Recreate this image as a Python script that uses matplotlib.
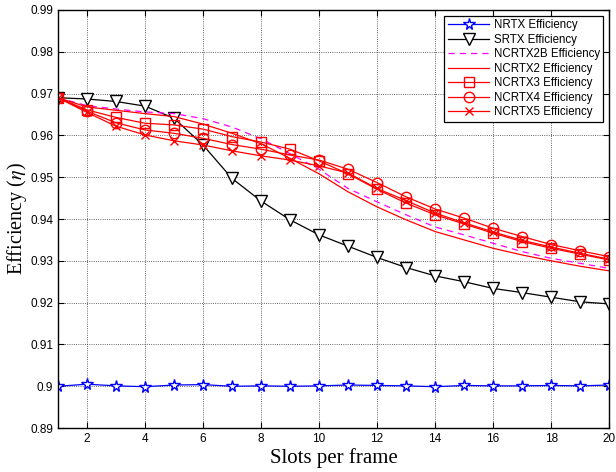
import matplotlib
matplotlib.use("Agg")
from matplotlib import pyplot as plt
import numpy as np

# slots per frame
slots = list(range(1, 21))

nrtx = [0.9000, 0.9005, 0.9001, 0.8999, 0.9003, 0.9004, 0.9000, 0.9001, 0.9000, 0.9001,
        0.9003, 0.9002, 0.9001, 0.8999, 0.9002, 0.9001, 0.9001, 0.9002, 0.9001, 0.9003]
srtx = [0.9690, 0.9687, 0.9681, 0.9670, 0.9641, 0.9577, 0.9497, 0.9443, 0.9398, 0.9362,
        0.9335, 0.9308, 0.9284, 0.9264, 0.9250, 0.9234, 0.9224, 0.9213, 0.9202, 0.9197]
ncrtx2b = [0.9690, 0.9671, 0.9663, 0.9656, 0.9652, 0.9640, 0.9620, 0.9592, 0.9556, 0.9519,
           0.9473, 0.9441, 0.9410, 0.9381, 0.9362, 0.9342, 0.9322, 0.9306, 0.9294, 0.9282]
ncrtx2 = [0.9690, 0.9668, 0.9660, 0.9652, 0.9645, 0.9627, 0.9605, 0.9580, 0.9545, 0.9508,
          0.9465, 0.9429, 0.9398, 0.9370, 0.9350, 0.9330, 0.9314, 0.9300, 0.9287, 0.9276]
ncrtx3 = [0.9690, 0.9661, 0.9643, 0.9629, 0.9625, 0.9615, 0.9597, 0.9584, 0.9567, 0.9539,
          0.9508, 0.9471, 0.9438, 0.9410, 0.9388, 0.9366, 0.9346, 0.9330, 0.9316, 0.9302]
ncrtx4 = [0.9690, 0.9658, 0.9630, 0.9613, 0.9605, 0.9593, 0.9578, 0.9567, 0.9553, 0.9541,
          0.9519, 0.9487, 0.9453, 0.9424, 0.9402, 0.9378, 0.9358, 0.9339, 0.9324, 0.9310]
ncrtx5 = [0.9690, 0.9655, 0.9622, 0.9601, 0.9587, 0.9577, 0.9563, 0.9551, 0.9541, 0.9527,
          0.9510, 0.9473, 0.9444, 0.9414, 0.9391, 0.9369, 0.9349, 0.9333, 0.9318, 0.9304]

plt.rcParams['font.family'] = ['Liberation Sans', 'DejaVu Sans']
plt.rcParams['mathtext.fontset'] = 'stix'

fig = plt.figure(figsize=(6.16, 4.72), dpi=100)
ax = fig.add_axes([0.094, 0.093, 0.895, 0.886])

lw = 0.9
ms = 6.5
ax.plot(slots, nrtx, color='blue', marker='*', ms=ms + 2, mfc='white', mec='blue', lw=lw, label='NRTX Efficiency')
ax.plot(slots, srtx, color='black', marker='v', ms=ms + 2, mfc='white', mec='black', lw=lw, label='SRTX Efficiency')
ax.plot(slots, ncrtx2b, color='magenta', ls=(0, (5, 4)), lw=lw, label='NCRTX2B Efficiency')
ax.plot(slots, ncrtx2, color='red', lw=lw, label='NCRTX2 Efficiency')
ax.plot(slots, ncrtx3, color='red', marker='s', ms=ms, mfc='none', mec='red', lw=lw, label='NCRTX3 Efficiency')
ax.plot(slots, ncrtx4, color='red', marker='o', ms=ms + 1, mfc='none', mec='red', lw=lw, label='NCRTX4 Efficiency')
ax.plot(slots, ncrtx5, color='red', marker='x', ms=ms - 1, mec='red', lw=lw, label='NCRTX5 Efficiency')

ax.set_xlim(1, 20)
ax.set_ylim(0.89, 0.99)
ax.set_xticks(range(2, 21, 2))
ax.set_yticks(np.arange(0.89, 0.9901, 0.01))
ax.set_yticklabels(['0.89', '0.9', '0.91', '0.92', '0.93', '0.94', '0.95', '0.96', '0.97', '0.98', '0.99'])
ax.tick_params(direction='in', top=True, right=True, labelsize=8.5, length=4, width=0.8)
ax.grid(True, ls=':', color='black', lw=0.6, alpha=0.8)
for s in ax.spines.values():
    s.set_linewidth(1.0)

ax.set_xlabel('Slots per frame', family='Liberation Serif', fontsize=15, labelpad=2)
ax.set_ylabel(r'Efficiency ($\eta$)', family='Liberation Serif', fontsize=14.5, labelpad=1)

leg = ax.legend(loc='upper right', fontsize=8.3, handlelength=3.6, fancybox=False,
                edgecolor='black', framealpha=1, borderpad=0.3, labelspacing=0.22,
                borderaxespad=0.5, handletextpad=0.4)
leg.get_frame().set_linewidth(0.9)

fig.savefig('out.png', dpi=100)
